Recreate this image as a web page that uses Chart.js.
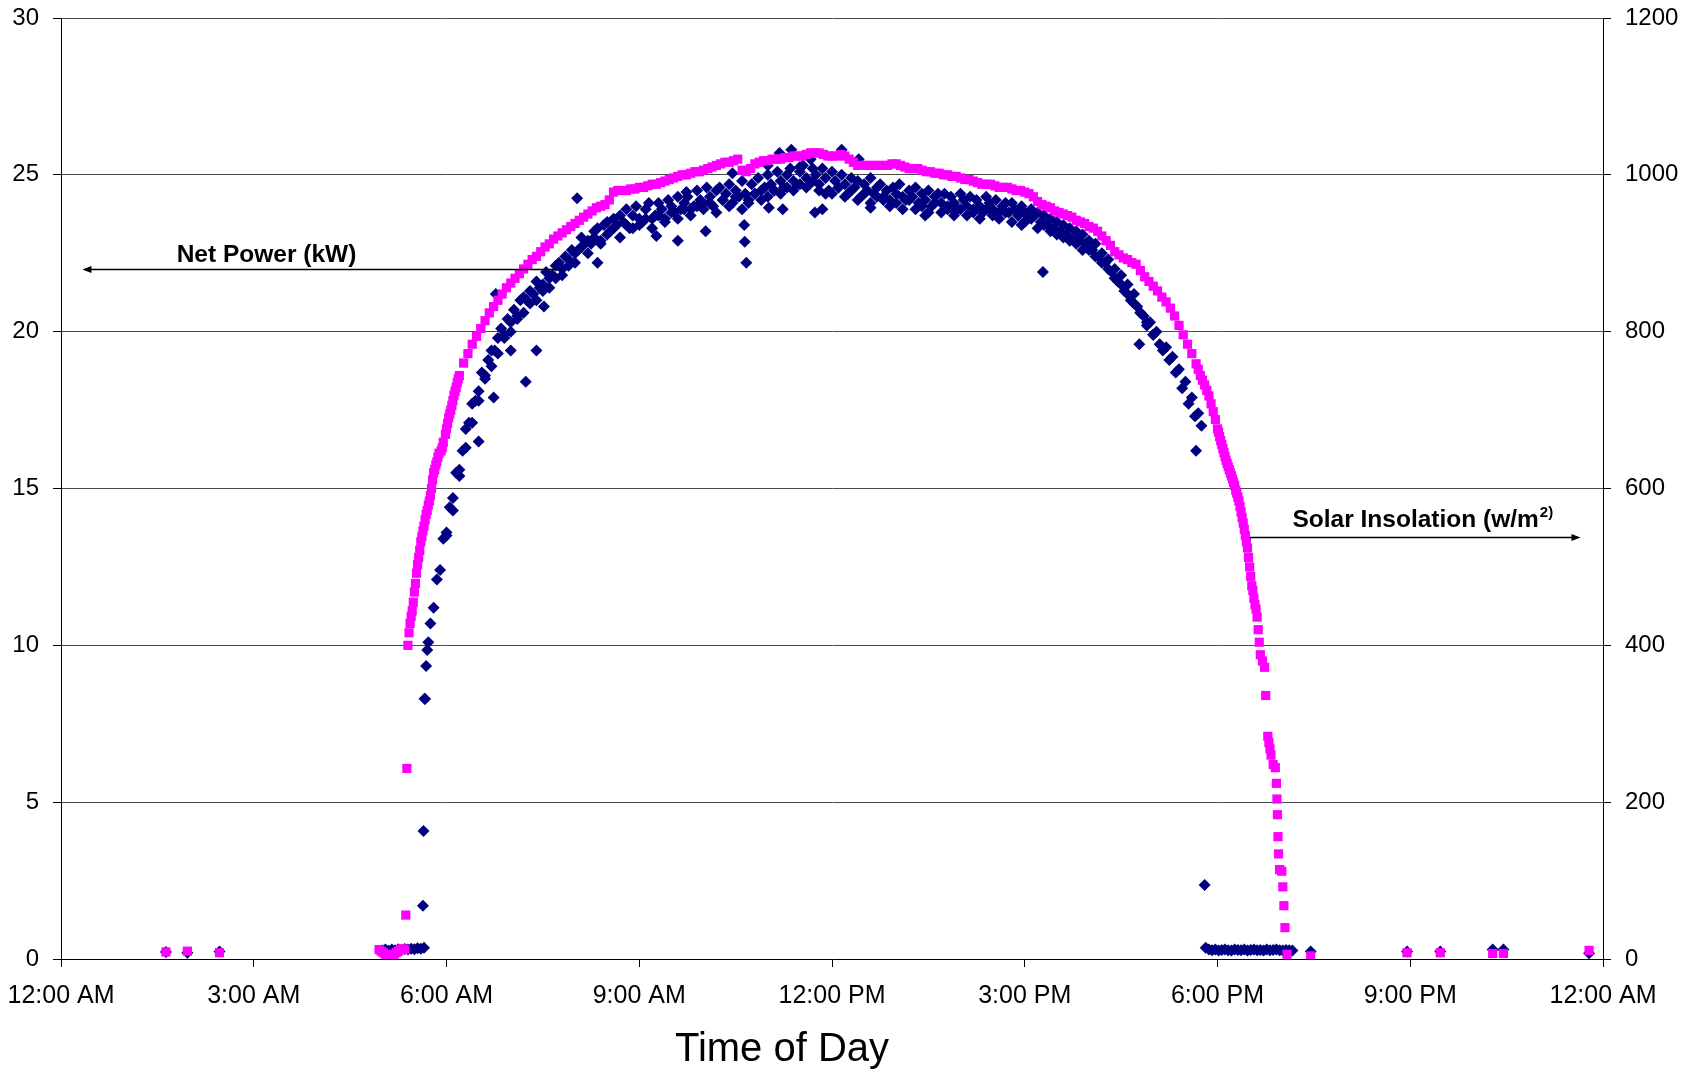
<!DOCTYPE html>
<html>
<head>
<meta charset="utf-8">
<title>Net Power and Solar Insolation</title>
<script src="https://cdn.jsdelivr.net/npm/chart.js@4.4.1/dist/chart.umd.min.js"></script>
<style>
  html, body { margin: 0; padding: 0; background: #fff; }
  canvas { display: block; }
</style>
</head>
<body>
<canvas id="chart" width="1690" height="1073"></canvas>
<script>
// Times are minutes after midnight.
const xTickMinutes = [0, 180, 360, 540, 720, 900, 1080, 1260, 1440];
const powerTicks = [0, 5, 10, 15, 20, 25, 30];
const solarTicks = [0, 200, 400, 600, 800, 1000, 1200];

// Solar insolation (W/m2), daytime run: one reading every 4 min from 5:24 AM
const SOLAR_START = 324;
const SOLAR_STEP = 4;
const solarDay = [
  400, 444, 492, 532, 560, 584, 620, 640, 652, 676,
  700, 724, 744, 760, 772, 784, 794, 804, 814, 824,
  832, 840, 848, 856, 862, 868, 874, 880, 886, 892,
  896, 902, 908, 912, 918, 922, 926, 930, 934, 938,
  942, 946, 950, 954, 958, 960, 962, 968, 978, 980,
  980, 980, 982, 982, 984, 984, 986, 988, 988, 990,
  992, 994, 996, 998, 1000, 1000, 1002, 1004, 1004, 1006,
  1008, 1010, 1012, 1014, 1016, 1016, 1018, 1020, 1006, 1004,
  1008, 1014, 1016, 1018, 1018, 1020, 1020, 1020, 1022, 1022,
  1024, 1024, 1024, 1026, 1028, 1028, 1028, 1026, 1024, 1024,
  1024, 1026, 1024, 1020, 1016, 1012, 1012, 1012, 1012, 1012,
  1012, 1012, 1012, 1014, 1014, 1012, 1010, 1008, 1008, 1008,
  1006, 1004, 1004, 1002, 1002, 1000, 1000, 998, 998, 996,
  994, 994, 992, 990, 988, 988, 988, 986, 984, 984,
  984, 982, 980, 980, 978, 976, 972, 966, 962, 960,
  958, 954, 952, 950, 948, 946, 942, 940, 938, 934,
  932, 928, 922, 916, 910, 902, 898, 894, 892, 888,
  886, 878, 870, 864, 858, 852, 844, 838, 830, 820,
  808, 796, 784, 772, 759, 744, 732, 718, 698, 676,
  656, 636, 620, 604, 584, 556, 524, 476, 446
];

// Solar insolation, other readings (night, dawn, steep parts, dusk)
const solarExtraTimes = [
  98, 118, 148,
  297, 299, 301, 303, 305, 307, 309, 311, 313, 315, 317, 319, 321,
  322, 323, 325, 326, 327, 329, 330, 331, 333, 334, 335, 337, 338, 339,
  341, 342, 343, 345, 346, 347, 349, 350, 351, 353, 355, 357, 359, 361,
  362, 363, 365, 366, 367, 369, 370, 371,
  1062, 1066, 1070, 1074,
  1078, 1081, 1082, 1083, 1085, 1086, 1087, 1089, 1090, 1091, 1093, 1094, 1095,
  1097, 1098, 1099, 1101, 1102, 1103, 1105, 1106, 1107, 1109, 1110, 1111, 1113,
  1114, 1115,
  1117, 1118, 1119, 1120, 1122, 1124, 1125, 1127, 1128, 1129, 1130, 1132, 1134,
  1135, 1135.5, 1136, 1136.5, 1137, 1138, 1140, 1141, 1142, 1143, 1145,
  1167, 1257, 1288, 1337, 1347, 1427
];
const solarExtraValues = [
  9, 10, 8,
  12, 10, 8, 6, 5, 4, 5, 6, 8, 10, 12, 13, 12,
  56, 243, 416, 428, 437, 455, 468, 479, 503, 512, 521, 539, 546, 552,
  567, 572, 579, 591, 600, 611, 624, 630, 634, 645, 648, 659, 669, 683,
  690, 695, 706, 712, 719, 729, 735, 740,
  752, 738, 725, 708,
  688, 672, 666, 661, 651, 646, 641, 632, 628, 624, 616, 612, 608,
  598, 594, 589, 577, 570, 563, 548, 540, 532, 512, 500, 488, 470,
  460, 452,
  436, 420, 404, 388, 380, 372, 336, 284, 276, 268, 260, 248, 244,
  224, 204, 184, 156, 134, 114, 112, 92, 68, 40, 6,
  4, 8, 8, 7, 7, 11
];

// Net power (kW), main daytime run: one reading every 3 min from 5:45 AM
const POWER_START = 345;
const POWER_STEP = 3;
const powerDay = [
  10.7, 11.2, 12.1, 12.4, 13.4, 13.6, 14.4, 14.7, 15.5, 15.6,
  16.2, 16.9, 17.1, 17.7, 17.8, 18.1, 18.7, 18.6, 19.1, 19.4,
  19.4, 19.8, 20.1, 19.9, 20.4, 20.3, 20.7, 20.5, 21.0, 21.1,
  21.0, 21.3, 21.2, 21.6, 21.4, 21.5, 21.9, 21.7, 21.8, 22.1,
  22.2, 22.0, 22.4, 22.3, 22.6, 22.5, 22.6, 23.0, 22.8, 22.9,
  22.8, 23.2, 23.3, 22.9, 23.4, 23.5, 23.2, 23.6, 23.4, 23.7,
  23.5, 23.9, 23.3, 23.7, 24.0, 23.6, 23.5, 23.9, 24.1, 23.6,
  23.7, 24.1, 23.9, 23.6, 24.2, 24.0, 23.8, 24.3, 23.9, 24.1,
  24.3, 23.9, 24.0, 24.5, 24.2, 24.1, 24.6, 24.3, 24.0, 24.5,
  24.6, 24.2, 24.4, 24.7, 24.1, 24.5, 24.3, 24.8, 24.4, 24.2,
  24.7, 24.4, 24.9, 24.5, 24.6, 25.0, 24.7, 24.5, 25.1, 24.8,
  24.6, 25.0, 25.2, 24.8, 24.7, 25.1, 25.3, 24.9, 24.7, 25.2,
  25.0, 24.7, 25.2, 24.9, 24.5, 25.1, 24.8, 24.6, 25.0, 24.7,
  24.4, 24.9, 24.6, 24.8, 24.3, 24.7, 24.5, 24.9, 24.4, 24.6,
  24.7, 24.3, 24.5, 24.2, 24.6, 24.4, 24.7, 24.3, 24.2, 24.5,
  24.3, 24.6, 24.1, 24.4, 24.2, 24.5, 24.0, 24.3, 24.4, 24.1,
  24.4, 24.0, 24.3, 24.1, 23.9, 24.4, 24.2, 24.0, 24.3, 23.9,
  24.2, 24.0, 23.8, 24.3, 24.1, 23.9, 24.2, 23.8, 24.0, 24.1,
  23.8, 24.1, 23.9, 23.7, 24.0, 23.8, 23.6, 23.9, 23.7, 23.8,
  23.5, 23.7, 23.4, 23.6, 23.3, 23.5, 23.2, 23.4, 23.1, 23.3,
  23.0, 23.2, 22.9, 23.1, 22.8, 22.9, 22.6, 22.8, 22.4, 22.5,
  22.2, 22.3, 21.9, 22.0, 21.6, 21.8, 21.3, 21.5, 21.0, 21.2,
  20.8, 20.6, 20.5, 20.2, 20.3, 19.9, 20.0, 19.6, 19.4, 19.5,
  19.1, 19.2, 18.7, 18.8, 18.2, 18.4, 17.7, 17.9, 17.3, 17.4,
  17.0
];

// Net power, second daytime run: one reading every 6 min from 6:00 AM
const POWER_B_START = 360;
const POWER_B_STEP = 6;
const powerDayB = [
  13.5, 14.3, 15.4, 16.3, 17.1, 17.8, 18.5, 18.9, 19.3, 19.8,
  20.0, 20.4, 20.6, 20.9, 21.0, 21.3, 21.4, 21.7, 21.8, 22.1,
  22.2, 22.7, 22.5, 23.0, 22.8, 23.1, 23.3, 23.0, 23.4, 23.3,
  23.4, 23.6, 23.3, 23.7, 23.5, 23.8, 23.6, 23.9, 23.7, 24.0,
  23.9, 24.1, 23.8, 24.2, 24.0, 24.3, 23.9, 24.1, 24.4, 24.2,
  24.3, 24.5, 24.4, 24.6, 24.5, 24.7, 24.6, 24.8, 24.5, 24.4,
  24.4, 24.6, 24.3, 24.5, 24.2, 24.4, 24.1, 24.3, 24.2, 24.0,
  24.1, 23.9, 24.2, 23.9, 24.0, 23.8, 24.1, 23.8, 23.9, 23.7,
  23.9, 23.7, 23.8, 23.6, 23.9, 23.7, 23.6, 23.8, 23.5, 23.7,
  23.5, 23.6, 23.3, 23.4, 23.2, 23.1, 23.0, 22.9, 22.8, 22.6,
  22.6, 22.4, 22.2, 22.0, 21.7, 21.5, 21.2, 20.9, 20.6, 20.3,
  19.9
];

// Net power, other readings (night, dawn, scattered points, dusk)
const powerExtraTimes = [
  98, 118, 148,
  300, 303, 306, 309, 312, 315, 318, 321, 324, 327, 330, 333, 336, 339,
  338, 338.5, 339.5, 340, 341, 342, 343,
  390, 404, 406, 420, 434, 444, 451, 482, 501, 556, 576, 584, 602, 627, 638, 638.5,
  640, 660, 661, 671, 674, 682, 690, 700, 704, 711, 729, 745, 756, 807, 833, 870,
  897, 917, 1007, 1060,
  1068, 1069, 1072, 1075, 1078, 1081, 1084, 1087, 1090, 1093, 1096, 1099, 1102, 1105,
  1108, 1111, 1114, 1117, 1120, 1123, 1126, 1129, 1132, 1135, 1138, 1141, 1144, 1147, 1150,
  1167, 1257, 1288, 1337, 1347, 1427
];
const powerExtraValues = [
  0.22, 0.20, 0.24,
  0.28, 0.30, 0.26, 0.30, 0.28, 0.31, 0.29, 0.32, 0.30, 0.33, 0.31, 0.34, 0.33, 0.36,
  1.70, 4.08, 8.30, 8.29, 9.34, 9.85, 10.1,
  16.5, 17.9, 21.2, 19.4, 18.4, 19.4, 20.8, 24.25, 22.2, 23.05, 22.9, 24.45, 23.2, 25.05, 23.4, 22.87,
  22.2, 25.3, 23.95, 25.7, 23.9, 25.8, 25.25, 25.5, 23.8, 23.9, 25.8, 25.5, 23.95, 23.7, 23.9, 23.8,
  23.4, 21.9, 19.6, 16.2,
  2.36, 0.36, 0.30, 0.28, 0.30, 0.27, 0.29, 0.30, 0.28, 0.27, 0.30, 0.29, 0.28, 0.30,
  0.27, 0.29, 0.30, 0.28, 0.29, 0.27, 0.30, 0.28, 0.29, 0.30, 0.28, 0.27, 0.29, 0.28, 0.27,
  0.24, 0.24, 0.24, 0.30, 0.30, 0.18
];

const FONT = '"Liberation Sans", Arial, Helvetica, sans-serif';

function run(start, step, values) {
  return values.map((v, i) => ({ x: start + i * step, y: v }));
}

function pairs(times, values) {
  return times.map((t, i) => ({ x: t, y: values[i] }));
}

function timeLabel(min) {
  const h = Math.round(min / 60) % 24;
  const h12 = h % 12 === 0 ? 12 : h % 12;
  return h12 + ':00 ' + (h < 12 ? 'AM' : 'PM');
}

// keep tick label overhang from pushing the plot area around
function fixSize(size, key) {
  return s => {
    s[key] = size;
    s.paddingTop = 0; s.paddingBottom = 0; s.paddingLeft = 0; s.paddingRight = 0;
  };
}

function arrow(ctx, x1, x2, y) {
  const dir = x2 > x1 ? 1 : -1;
  ctx.beginPath();
  ctx.moveTo(x1, y);
  ctx.lineTo(x2 - dir * 8, y);
  ctx.stroke();
  ctx.beginPath();
  ctx.moveTo(x2, y);
  ctx.lineTo(x2 - dir * 9, y - 3.5);
  ctx.lineTo(x2 - dir * 9, y + 3.5);
  ctx.closePath();
  ctx.fill();
}

// labels with arrows, and the axis title
const labelsPlugin = {
  id: 'labels',
  afterDraw(chart) {
    const { ctx, scales } = chart;
    const x = scales.x, y = scales.y, y2 = scales.y2;
    ctx.save();
    ctx.fillStyle = '#000';
    ctx.strokeStyle = '#000';
    ctx.lineWidth = 1.5;

    // Net Power (kW) <- pointing at left axis
    let ly = Math.round(y.getPixelForValue(22)) + 0.5;
    arrow(ctx, x.getPixelForValue(468), x.getPixelForValue(20), ly);
    ctx.font = 'bold 24.5px ' + FONT;
    ctx.textBaseline = 'alphabetic';
    ctx.textAlign = 'left';
    ctx.fillText('Net Power (kW)', x.getPixelForValue(108), ly - 8);

    // Solar Insolation (w/m2) -> pointing at right axis
    ly = Math.round(y2.getPixelForValue(538)) + 0.5;
    arrow(ctx, x.getPixelForValue(1110), x.getPixelForValue(1419), ly);
    const tx = x.getPixelForValue(1150);
    const base = ly - 11;
    const main = 'Solar Insolation (w/m';
    ctx.fillText(main, tx, base);
    const w = ctx.measureText(main).width;
    ctx.font = 'bold 15px ' + FONT;
    ctx.fillText('2)', tx + w + 1, base - 10);

    // axis title
    ctx.font = '40px ' + FONT;
    ctx.textAlign = 'center';
    ctx.textBaseline = 'middle';
    ctx.fillText('Time of Day', 782, 1050);
    ctx.restore();
  }
};

new Chart(document.getElementById('chart'), {
  type: 'scatter',
  data: {
    datasets: [
      {
        label: 'Solar Insolation (w/m2)',
        data: run(SOLAR_START, SOLAR_STEP, solarDay).concat(pairs(solarExtraTimes, solarExtraValues)),
        yAxisID: 'y2',
        order: 0,
        pointStyle: 'rect',
        pointRadius: 6.5,
        pointBorderWidth: 0,
        backgroundColor: '#ff00ff',
        borderColor: '#ff00ff'
      },
      {
        label: 'Net Power (kW)',
        data: run(POWER_START, POWER_STEP, powerDay)
          .concat(run(POWER_B_START, POWER_B_STEP, powerDayB))
          .concat(pairs(powerExtraTimes, powerExtraValues)),
        yAxisID: 'y',
        order: 1,
        pointStyle: 'rectRot',
        pointRadius: 6,
        pointBorderWidth: 0,
        backgroundColor: '#000080',
        borderColor: '#000080'
      }
    ]
  },
  options: {
    responsive: false,
    animation: false,
    events: [],
    layout: { padding: { top: 18, left: 0, right: 0, bottom: 0 } },
    plugins: { legend: { display: false }, tooltip: { enabled: false } },
    scales: {
      x: {
        type: 'linear',
        position: 'bottom',
        min: 0,
        max: 1440,
        afterBuildTicks: s => { s.ticks = xTickMinutes.map(v => ({ value: v })); },
        afterFit: fixSize(114, 'height'),
        ticks: {
          autoSkip: false,
          maxRotation: 0,
          padding: 14,
          color: '#000',
          font: { family: FONT, size: 25 },
          callback: v => timeLabel(v)
        },
        grid: { drawOnChartArea: false, drawTicks: true, tickLength: 8, tickColor: '#000' },
        border: { color: '#000', width: 1 }
      },
      y: {
        position: 'left',
        min: 0,
        max: 30,
        afterBuildTicks: s => { s.ticks = powerTicks.map(v => ({ value: v })); },
        afterFit: fixSize(61, 'width'),
        ticks: { padding: 14, color: '#000', font: { family: FONT, size: 24 }, callback: v => String(v) },
        grid: { color: '#4a4a4a', lineWidth: 1, tickLength: 8, tickColor: '#000' },
        border: { color: '#000', width: 1 }
      },
      y2: {
        position: 'right',
        min: 0,
        max: 1200,
        afterBuildTicks: s => { s.ticks = solarTicks.map(v => ({ value: v })); },
        afterFit: fixSize(87, 'width'),
        ticks: { padding: 14, color: '#000', font: { family: FONT, size: 24 }, callback: v => String(v) },
        grid: { drawOnChartArea: false, tickLength: 8, tickColor: '#000' },
        border: { color: '#000', width: 1 }
      }
    }
  },
  plugins: [labelsPlugin]
});
</script>
</body>
</html>
